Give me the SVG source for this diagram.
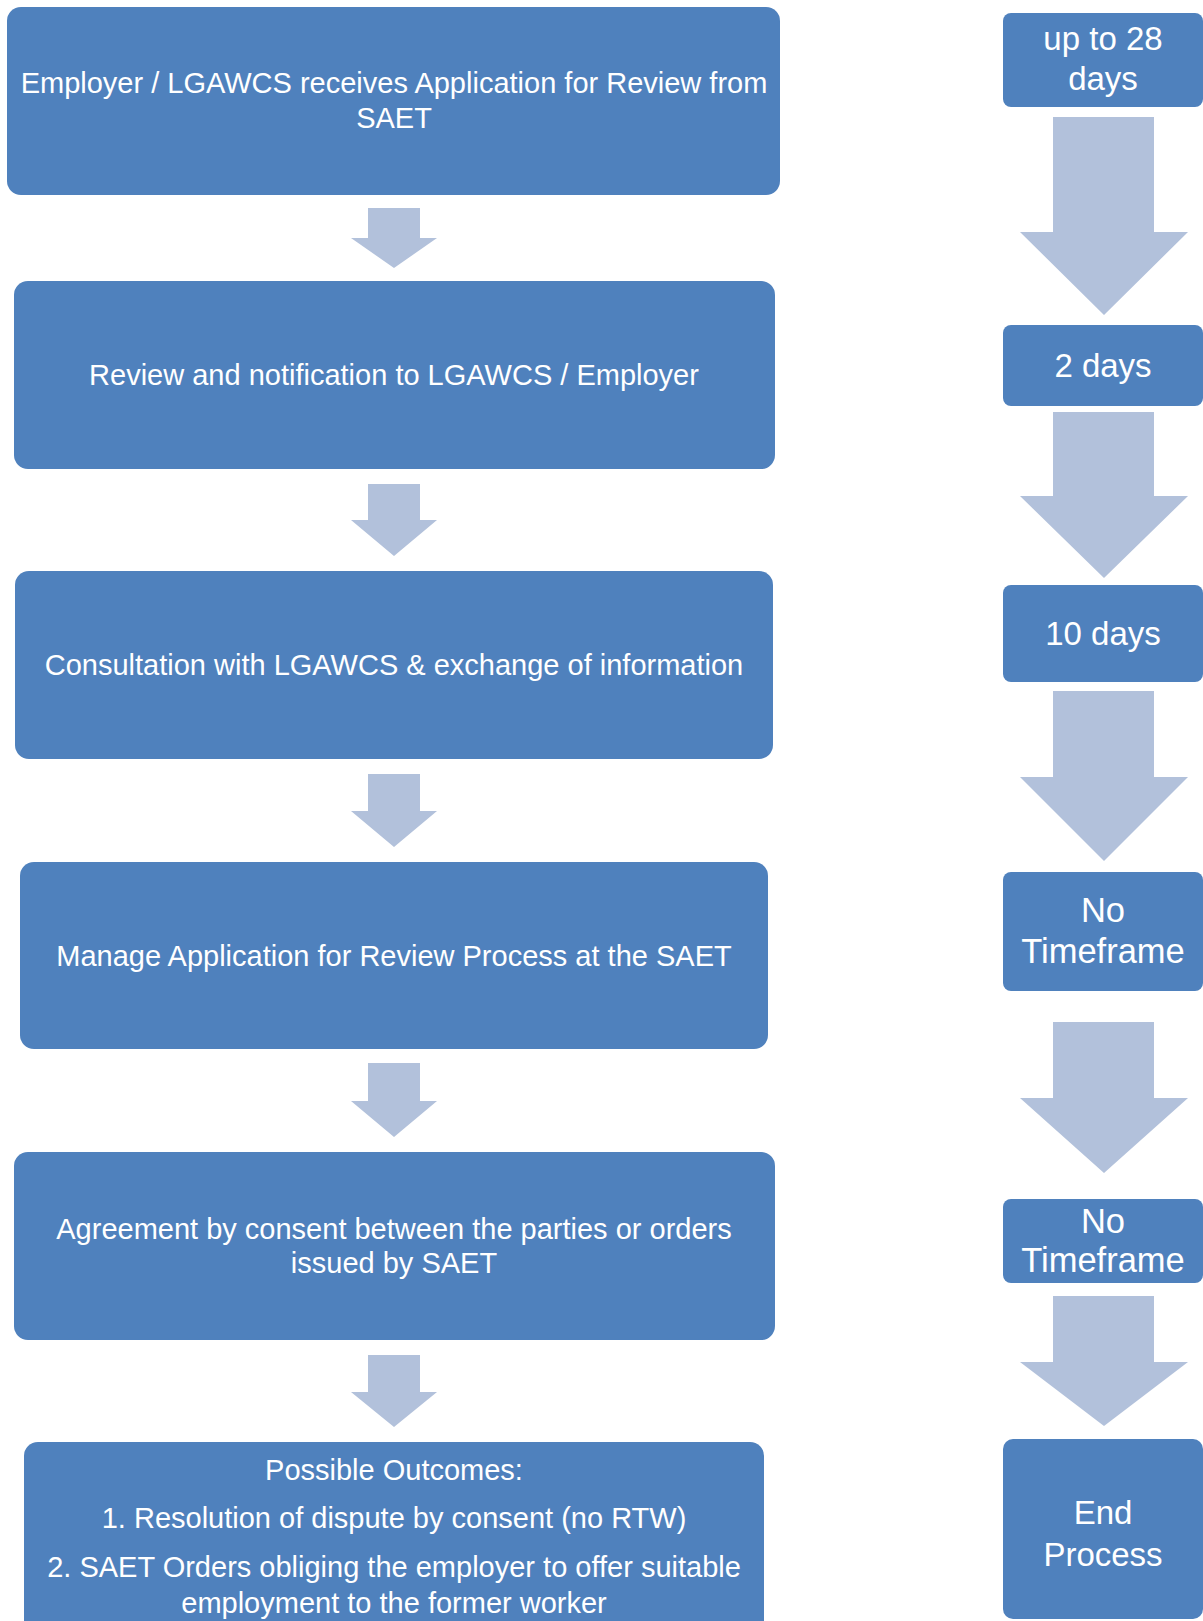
<svg xmlns="http://www.w3.org/2000/svg" width="1203" height="1621" viewBox="0 0 1203 1621">
<style>
.box{fill:#4F81BD;}
.arr{fill:#B2C1DB;}
.t{font-family:"Liberation Sans",Arial,sans-serif;fill:#ffffff;text-anchor:middle;}
.tl{font-size:29px;}
.tr{font-size:33px;}
.tw{font-size:34.5px;}
</style>
<rect width="1203" height="1621" fill="#ffffff"/>
<g id="connectors">
<polygon class="arr" points="368,208 420,208 420,238 437,238 394,268 351,238 368,238"/>
<polygon class="arr" points="368,484 420,484 420,520 437,520 394,556 351,520 368,520"/>
<polygon class="arr" points="368,774 420,774 420,811 437,811 394,847 351,811 368,811"/>
<polygon class="arr" points="368,1063 420,1063 420,1101 437,1101 394,1137 351,1101 368,1101"/>
<polygon class="arr" points="368,1355 420,1355 420,1392 437,1392 394,1427 351,1392 368,1392"/>
<polygon class="arr" points="1053,117 1154,117 1154,232 1188,232 1104,315 1020,232 1053,232"/>
<polygon class="arr" points="1053,412 1154,412 1154,496 1188,496 1104,578 1020,496 1053,496"/>
<polygon class="arr" points="1053,691 1154,691 1154,777 1188,777 1104,861 1020,777 1053,777"/>
<polygon class="arr" points="1053,1022 1154,1022 1154,1098 1188,1098 1104,1173 1020,1098 1053,1098"/>
<polygon class="arr" points="1053,1296 1154,1296 1154,1362 1188,1362 1104,1426 1020,1362 1053,1362"/>
</g>
<g id="step1">
<rect class="box" x="7" y="7" width="773" height="188" rx="14"/>
<text class="t tl" x="394" y="93">Employer / LGAWCS receives Application for Review from</text>
<text class="t tl" x="394" y="128">SAET</text>
</g>
<g id="step2">
<rect class="box" x="14" y="281" width="761" height="188" rx="14"/>
<text class="t tl" x="394" y="385">Review and notification to LGAWCS / Employer</text>
</g>
<g id="step3">
<rect class="box" x="15" y="571" width="758" height="188" rx="14"/>
<text class="t tl" x="394" y="675">Consultation with LGAWCS &amp; exchange of information</text>
</g>
<g id="step4">
<rect class="box" x="20" y="862" width="748" height="187" rx="14"/>
<text class="t tl" x="394" y="966">Manage Application for Review Process at the SAET</text>
</g>
<g id="step5">
<rect class="box" x="14" y="1152" width="761" height="188" rx="14"/>
<text class="t tl" x="394" y="1239">Agreement by consent between the parties or orders</text>
<text class="t tl" x="394" y="1273">issued by SAET</text>
</g>
<g id="step6">
<rect class="box" x="24" y="1442" width="740" height="200" rx="14"/>
<text class="t tl" x="394" y="1480">Possible Outcomes:</text>
<text class="t tl" x="394" y="1528">1. Resolution of dispute by consent (no RTW)</text>
<text class="t tl" x="394" y="1577">2. SAET Orders obliging the employer to offer suitable</text>
<text class="t tl" x="394" y="1613">employment to the former worker</text>
</g>
<g id="time1">
<rect class="box" x="1003" y="13" width="200" height="94" rx="8"/>
<text class="t tr" x="1103" y="50">up to 28</text>
<text class="t tr" x="1103" y="90">days</text>
</g>
<g id="time2">
<rect class="box" x="1003" y="325" width="200" height="81" rx="8"/>
<text class="t tr" x="1103" y="377">2 days</text>
</g>
<g id="time3">
<rect class="box" x="1003" y="585" width="200" height="97" rx="8"/>
<text class="t tr" x="1103" y="645">10 days</text>
</g>
<g id="time4">
<rect class="box" x="1003" y="872" width="200" height="119" rx="8"/>
<text class="t tw" x="1103" y="922">No</text>
<text class="t tw" x="1103" y="963">Timeframe</text>
</g>
<g id="time5">
<rect class="box" x="1003" y="1199" width="200" height="84" rx="8"/>
<text class="t tw" x="1103" y="1233">No</text>
<text class="t tw" x="1103" y="1272">Timeframe</text>
</g>
<g id="time6">
<rect class="box" x="1003" y="1439" width="200" height="180" rx="10"/>
<text class="t tr" x="1103" y="1524">End</text>
<text class="t tr" x="1103" y="1566">Process</text>
</g>
</svg>
